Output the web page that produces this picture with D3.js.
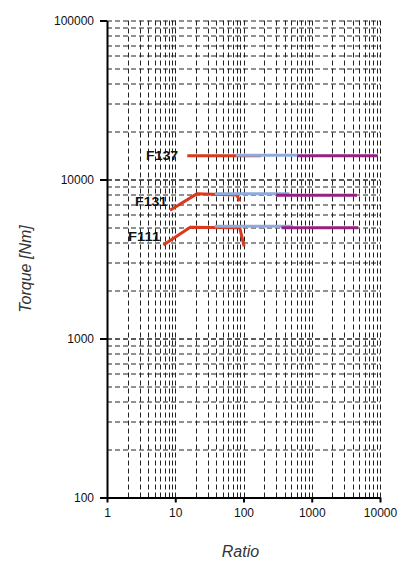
<!DOCTYPE html>
<html>
<head>
<meta charset="utf-8">
<script src="https://cdn.jsdelivr.net/npm/d3@7"></script>
<style>
  body { margin: 0; background: #fff; }
  svg { display: block; font-family: "Liberation Sans", Arial, sans-serif; }
</style>
</head>
<body>
<svg width="401" height="563"></svg>
<script>
// data: [ratio, torque]
const f137Red = [[15, 14100], [180, 14100]];
const f137Blue = [[78, 14200], [610, 14200]];
const f137Purple = [[610, 14100], [9300, 14100]];

const f131Red = [[8.4, 6400], [21, 8150], [80, 8000], [88, 7300]];
const f131Blue = [[38, 8150], [470, 8150]];
const f131Purple = [[300, 7950], [4600, 7950]];

const f111Red = [[6.7, 3870], [16.6, 5000], [88, 4980], [102, 3800]];
const f111Blue = [[38, 5080], [530, 5080]];
const f111Purple = [[360, 4970], [4800, 4970]];

const labelNames = ['F137', 'F131', 'F111'];
const labelAnchors = [[11, 14100], [7.6, 7310], [6.0, 4400]];

const xTicks = [1, 10, 100, 1000, 10000];
const yTicks = [100, 1000, 10000, 100000];

const colors = { red: '#d93a1f', blue: '#8faadc', purple: '#952182' };

const svg = d3.select('svg');
const margin = { top: 20.5, right: 21, bottom: 65.5, left: 107 };
const width = 401 - margin.left - margin.right;
const height = 563 - margin.top - margin.bottom;

const x = d3.scaleLog().domain([1, 10000]).range([0, width]);
const y = d3.scaleLog().domain([100, 100000]).range([height, 0]);

const g = svg.append('g')
    .attr('transform', `translate(${margin.left},${margin.top})`);

// dashed grid, every 1..9 per decade
const gridX = d3.range(0, 4).flatMap(k => d3.range(2, 11).map(m => m * 10 ** k));
const gridY = d3.range(2, 5).flatMap(k => d3.range(1, 11).map(m => m * 10 ** k));

const grid = g.append('g')
    .attr('stroke', '#222')
    .attr('stroke-width', 1)
    .attr('stroke-dasharray', '5,3');

grid.selectAll('.gx').data(gridX).join('line')
    .attr('x1', d => Math.round(x(d)) + 0.5)
    .attr('x2', d => Math.round(x(d)) + 0.5)
    .attr('y1', 0)
    .attr('y2', height);

grid.selectAll('.gy').data(gridY).join('line')
    .attr('y1', d => Math.round(y(d)) + 0.5)
    .attr('y2', d => Math.round(y(d)) + 0.5)
    .attr('x1', 0)
    .attr('x2', width);

// series
const line = d3.line().x(d => x(d[0])).y(d => y(d[1]));
const series = [
    [f137Red, colors.red], [f131Red, colors.red], [f111Red, colors.red],
    [f137Blue, colors.blue], [f131Blue, colors.blue], [f111Blue, colors.blue],
    [f137Purple, colors.purple], [f131Purple, colors.purple], [f111Purple, colors.purple]
];

g.append('g').selectAll('path').data(series).join('path')
    .attr('d', d => line(d[0]))
    .attr('fill', 'none')
    .attr('stroke', d => d[1])
    .attr('stroke-width', 3)
    .attr('stroke-linejoin', 'round');

g.append('g').selectAll('text').data(labelNames).join('text')
    .attr('x', (d, i) => x(labelAnchors[i][0]))
    .attr('y', (d, i) => y(labelAnchors[i][1]))
    .attr('dy', '0.36em')
    .attr('text-anchor', 'end')
    .attr('font-size', 13)
    .attr('font-weight', 'bold')
    .attr('textLength', 32)
    .attr('lengthAdjust', 'spacingAndGlyphs')
    .attr('fill', '#111')
    .text(d => d);

// axes
const xAxis = d3.axisBottom(x)
    .tickValues(xTicks)
    .tickFormat(d3.format('d'))
    .tickSize(5)
    .tickSizeOuter(0)
    .tickPadding(6);

const yAxis = d3.axisLeft(y)
    .tickValues(yTicks)
    .tickFormat(d3.format('d'))
    .tickSize(7)
    .tickSizeOuter(0)
    .tickPadding(6);

const styleAxis = sel => {
    sel.select('.domain').attr('stroke', '#000').attr('stroke-width', 2);
    sel.selectAll('.tick line').attr('stroke', '#000').attr('stroke-width', 2);
    sel.selectAll('.tick text')
        .attr('font-size', 12)
        .attr('fill', '#111')
        .style('font-family', '"Liberation Sans", Arial, sans-serif');
};

g.append('g')
    .attr('transform', `translate(0,${height})`)
    .call(xAxis)
    .call(styleAxis);

g.append('g')
    .call(yAxis)
    .call(styleAxis);

// axis titles
svg.append('text')
    .attr('x', margin.left + x(100) - 3)
    .attr('y', 557)
    .attr('text-anchor', 'middle')
    .attr('font-size', 16)
    .attr('font-style', 'italic')
    .attr('fill', '#333')
    .text('Ratio');

svg.append('text')
    .attr('transform', 'translate(31,269) rotate(-90)')
    .attr('text-anchor', 'middle')
    .attr('font-size', 16)
    .attr('font-style', 'italic')
    .attr('fill', '#333')
    .text('Torque [Nm]');
</script>
</body>
</html>
